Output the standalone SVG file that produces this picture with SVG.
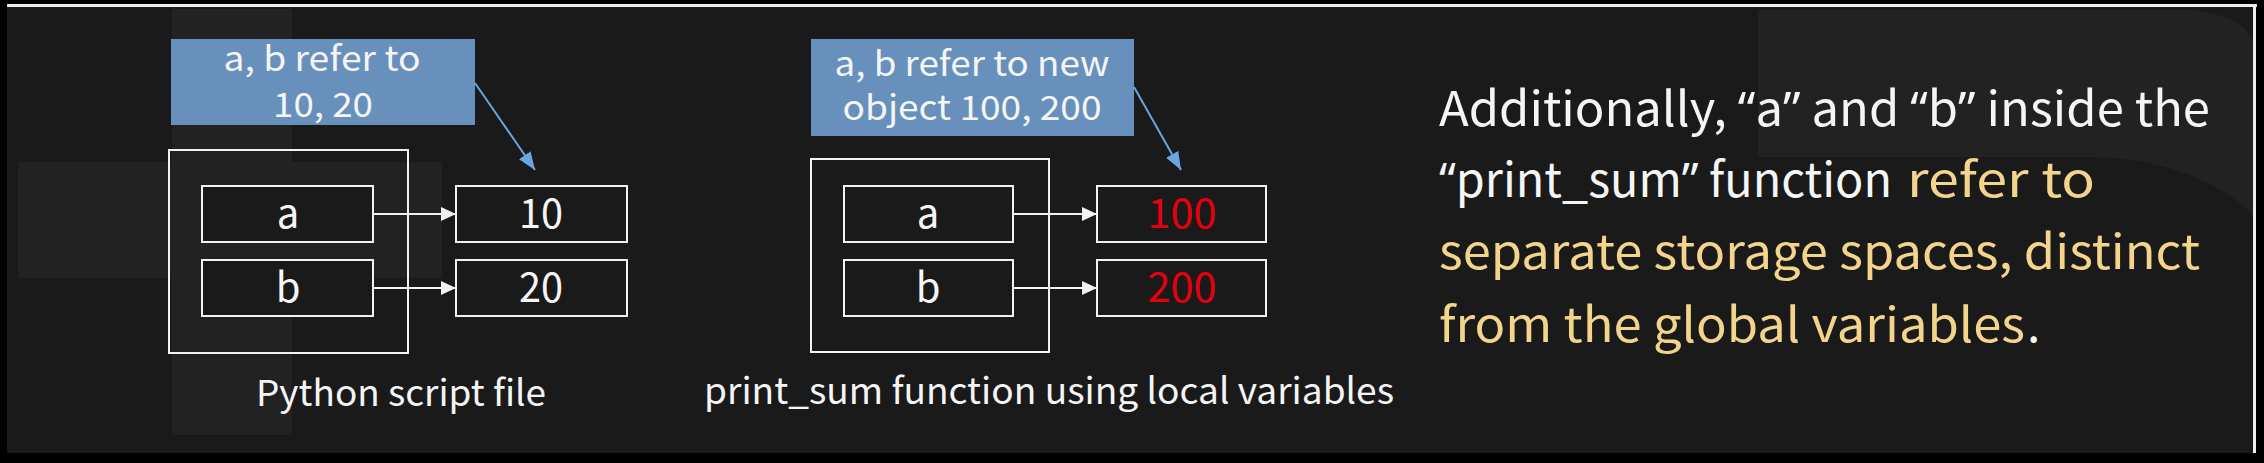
<svg xmlns="http://www.w3.org/2000/svg" width="2264" height="463" viewBox="0 0 2264 463">
<style>
.t{font-family:"Noto Sans CJK SC","Noto Sans",sans-serif;fill:#f5f5f5}
.q{font-family:"Noto Sans",sans-serif}
.box{fill:#1a1a1a;stroke:#f2f2f2;stroke-width:2}
.outer{fill:none;stroke:#f2f2f2;stroke-width:2}
.note{fill:#6790bc}
.w{stroke:#f2f2f2;stroke-width:2;fill:none}
.bl{stroke:#6aa6e0;stroke-width:2;fill:none}
.y{fill:#f2d48b}
.r{fill:#e5000f}
</style>
<defs>
<marker id="ah" markerUnits="userSpaceOnUse" markerWidth="16" markerHeight="14" refX="15" refY="7" orient="auto">
<path d="M0,0 L15,7 L0,14 Z" fill="#f2f2f2"/>
</marker>
<marker id="ahb" markerUnits="userSpaceOnUse" markerWidth="19" markerHeight="14" refX="18" refY="7" orient="auto">
<path d="M0,0 L18,7 L0,14 Z" fill="#6aa6e0"/>
</marker>
</defs>
<!-- background -->
<rect x="0" y="0" width="2264" height="463" fill="#000"/>
<rect x="7" y="7" width="2248" height="446" fill="#1a1a1a"/>
<rect x="172" y="9" width="120" height="426" fill="#222"/>
<rect x="18" y="162" width="424" height="116" fill="#222"/>
<path d="M1758,10 L2190,10 Q2240,14 2253,40 L2253,215 Q2200,163 2100,157 L1758,157 Z" fill="#222"/>
<rect x="7" y="4" width="2250" height="3" fill="#eeeeee"/>
<rect x="2253" y="4" width="3" height="449" fill="#eeeeee"/>

<!-- left diagram -->
<g id="note1">
<rect class="note" x="171" y="39" width="304" height="86"/>
<text class="t" x="322" y="71" font-size="34" text-anchor="middle" textLength="197" lengthAdjust="spacingAndGlyphs">a, b refer to</text>
<text class="t" x="323" y="117" font-size="34" text-anchor="middle" textLength="100" lengthAdjust="spacingAndGlyphs">10, 20</text>
</g>
<g id="script-file">
<rect class="outer" x="169" y="150" width="239" height="203"/>
<text class="t" x="401" y="406" font-size="36" text-anchor="middle" textLength="290" lengthAdjust="spacingAndGlyphs">Python script file</text>
</g>
<g id="var-a1">
<rect class="box" x="202" y="186" width="171" height="56"/>
<text class="t" x="288" y="228" font-size="40" text-anchor="middle">a</text>
</g>
<g id="var-b1">
<rect class="box" x="202" y="260" width="171" height="56"/>
<text class="t" x="288" y="302" font-size="40" text-anchor="middle">b</text>
</g>
<g id="val-10">
<rect class="box" x="456" y="186" width="171" height="56"/>
<text class="t" x="541" y="228" font-size="40" text-anchor="middle" textLength="44" lengthAdjust="spacingAndGlyphs">10</text>
</g>
<g id="val-20">
<rect class="box" x="456" y="260" width="171" height="56"/>
<text class="t" x="541" y="302" font-size="40" text-anchor="middle" textLength="44" lengthAdjust="spacingAndGlyphs">20</text>
</g>

<!-- middle diagram -->
<g id="note2">
<rect class="note" x="811" y="39" width="323" height="97"/>
<text class="t" x="972" y="76" font-size="34" text-anchor="middle" textLength="275" lengthAdjust="spacingAndGlyphs">a, b refer to new</text>
<text class="t" x="972" y="120" font-size="34" text-anchor="middle" textLength="259" lengthAdjust="spacingAndGlyphs">object 100, 200</text>
</g>
<g id="func-scope">
<rect class="outer" x="811" y="159" width="238" height="193"/>
<text class="t" x="1049" y="404" font-size="36" text-anchor="middle" textLength="690" lengthAdjust="spacingAndGlyphs">print_sum function using local variables</text>
</g>
<g id="var-a2">
<rect class="box" x="844" y="186" width="169" height="56"/>
<text class="t" x="928" y="228" font-size="40" text-anchor="middle">a</text>
</g>
<g id="var-b2">
<rect class="box" x="844" y="260" width="169" height="56"/>
<text class="t" x="928" y="302" font-size="40" text-anchor="middle">b</text>
</g>
<g id="val-100">
<rect class="box" x="1097" y="186" width="169" height="56"/>
<text class="t r" x="1182" y="228" font-size="40" text-anchor="middle" textLength="69" lengthAdjust="spacingAndGlyphs">100</text>
</g>
<g id="val-200">
<rect class="box" x="1097" y="260" width="169" height="56"/>
<text class="t r" x="1182" y="302" font-size="40" text-anchor="middle" textLength="69" lengthAdjust="spacingAndGlyphs">200</text>
</g>

<!-- connectors -->
<g id="connectors">
<line class="w" x1="373" y1="214" x2="456" y2="214" marker-end="url(#ah)"/>
<line class="w" x1="373" y1="288" x2="456" y2="288" marker-end="url(#ah)"/>
<line class="w" x1="1013" y1="214" x2="1097" y2="214" marker-end="url(#ah)"/>
<line class="w" x1="1013" y1="288" x2="1097" y2="288" marker-end="url(#ah)"/>
<line class="bl" x1="475" y1="83" x2="535" y2="170" marker-end="url(#ahb)"/>
<line class="bl" x1="1134" y1="87" x2="1181" y2="170" marker-end="url(#ahb)"/>
</g>

<!-- right text -->
<g id="explanation">
<text class="t" x="1439" y="126" font-size="48" textLength="771" lengthAdjust="spacingAndGlyphs">Additionally, <tspan class="q">“</tspan>a<tspan class="q">”</tspan> and <tspan class="q">“</tspan>b<tspan class="q">”</tspan> inside the</text>
<text class="t" x="1439" y="197" font-size="48" textLength="453" lengthAdjust="spacingAndGlyphs"><tspan class="q">“</tspan>print_sum<tspan class="q">”</tspan> function</text>
<text class="t y" x="1907" y="197" font-size="48" textLength="188" lengthAdjust="spacingAndGlyphs">refer to</text>
<text class="t y" x="1439" y="269" font-size="48" textLength="761" lengthAdjust="spacingAndGlyphs">separate storage spaces, distinct</text>
<text class="t y" x="1439" y="342" font-size="48" textLength="586" lengthAdjust="spacingAndGlyphs">from the global variables</text>
<text class="t" x="2027" y="342" font-size="48">.</text>
</g>
</svg>
